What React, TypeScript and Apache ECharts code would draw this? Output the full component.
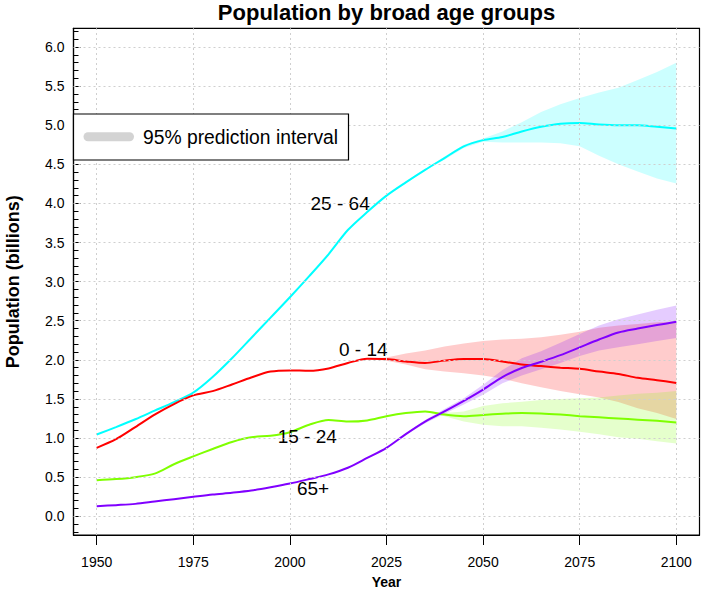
import React, { useEffect, useRef } from "react";
import * as echarts from "echarts";

// ---------- data ----------
const years = [
  1950, 1955, 1960, 1965, 1970, 1975, 1980, 1985, 1990, 1995, 2000, 2005, 2010,
  2015, 2020, 2025, 2030, 2035, 2040, 2045, 2050, 2055, 2060, 2065, 2070, 2075,
  2080, 2085, 2090, 2095, 2100,
];

const age25_64 = [
  1.045, 1.14, 1.24, 1.35, 1.46, 1.58, 1.78, 2.02, 2.28, 2.54, 2.8, 3.07, 3.35,
  3.66, 3.89, 4.1, 4.27, 4.43, 4.58, 4.73, 4.81, 4.85, 4.92, 4.98, 5.02, 5.03,
  5.01, 5.0, 5.0, 4.98, 4.96,
];
const age0_14 = [
  0.875, 0.985, 1.14, 1.3, 1.435, 1.545, 1.6, 1.685, 1.775, 1.85, 1.865, 1.86,
  1.89, 1.96, 2.015, 2.01, 1.98, 1.96, 1.99, 2.01, 2.01, 1.98, 1.94, 1.92, 1.9,
  1.885, 1.85, 1.82, 1.77, 1.74, 1.705,
];
const age15_24 = [
  0.46, 0.475, 0.5, 0.545, 0.665, 0.765, 0.86, 0.95, 1.01, 1.03, 1.075, 1.17,
  1.23, 1.21, 1.225, 1.28, 1.32, 1.34, 1.3, 1.28, 1.295, 1.31, 1.32, 1.315, 1.3,
  1.28, 1.265, 1.25, 1.235, 1.22, 1.2,
];
const age65plus = [
  0.128, 0.142, 0.158, 0.188, 0.218, 0.248, 0.277, 0.3, 0.328, 0.37, 0.418,
  0.475, 0.535, 0.62, 0.745, 0.875, 1.05, 1.21, 1.34, 1.475, 1.62, 1.78, 1.895,
  1.975, 2.06, 2.16, 2.26, 2.35, 2.4, 2.445, 2.486,
];

// 95% prediction intervals
const bandYears = [
  2020, 2025, 2030, 2035, 2040, 2045, 2050, 2055, 2060, 2065, 2070, 2075, 2080,
  2085, 2090, 2095, 2100,
];
const band25_64Hi = [
  3.89, 4.11, 4.28, 4.44, 4.6, 4.75, 4.83, 4.92, 5.04, 5.17, 5.27, 5.35, 5.42,
  5.48, 5.58, 5.68, 5.8,
];
const band25_64Lo = [
  3.89, 4.09, 4.26, 4.42, 4.56, 4.71, 4.79, 4.78, 4.78, 4.78, 4.77, 4.73, 4.61,
  4.5, 4.41, 4.32, 4.255,
];
const band0_14Hi = [
  2.015, 2.03, 2.08, 2.12, 2.17, 2.21, 2.24, 2.26, 2.27, 2.29, 2.32, 2.36, 2.41,
  2.44, 2.46, 2.48, 2.49,
];
const band0_14Lo = [
  2.015, 1.99, 1.94, 1.88, 1.85, 1.83, 1.8, 1.76, 1.7, 1.65, 1.6, 1.56, 1.52,
  1.46, 1.38, 1.32, 1.245,
];
const band15_24Hi = [
  1.225, 1.28, 1.32, 1.345, 1.32, 1.34, 1.41, 1.445, 1.465, 1.485, 1.5, 1.51,
  1.52, 1.545, 1.565, 1.58, 1.6,
];
const band15_24Lo = [
  1.225, 1.28, 1.32, 1.335, 1.28, 1.21, 1.17, 1.15, 1.15, 1.13, 1.11, 1.08,
  1.05, 1.01, 0.99, 0.96, 0.93,
];
const band65Hi = [
  0.745, 0.875, 1.06, 1.23, 1.37, 1.51, 1.68, 1.87, 2.02, 2.11, 2.22, 2.33,
  2.44, 2.52, 2.58, 2.64, 2.695,
];
const band65Lo = [
  0.745, 0.875, 1.04, 1.19, 1.31, 1.43, 1.555, 1.7, 1.8, 1.88, 1.96, 2.05, 2.12,
  2.16, 2.2, 2.24, 2.28,
];

// tick labels
const xTickValues = [1950, 1975, 2000, 2025, 2050, 2075, 2100];
const yTickValues = [0, 0.5, 1, 1.5, 2, 2.5, 3, 3.5, 4, 4.5, 5, 5.5, 6];

// in-plot group labels: [year, value, text]
const groupLabels: [number, number, string][] = [
  [2013, 4.0, "25 - 64"],
  [2019, 2.13, "0 - 14"],
  [2004.5, 1.02, "15 - 24"],
  [2006, 0.35, "65+"],
];

const FONT = '"Liberation Sans", Arial, Helvetica, sans-serif';

const yMinorTickValues: number[] = [];
for (let k = -2; k <= 62; k++) {
  if (k % 5 !== 0) yMinorTickValues.push(Math.round(k) / 10);
}

function pairs(xs: number[], ys: number[]) {
  return xs.map((x, i) => [x, ys[i]]);
}

function makeBand(name: string, lo: number[], hi: number[], fill: string) {
  return {
    type: "custom",
    name,
    silent: true,
    z: 2,
    data: bandYears.map((y, i) => [y, lo[i], hi[i]]),
    encode: { x: 0, y: [1, 2] },
    renderItem: (params: any, api: any) => {
      if (params.dataIndex !== 0) return null;
      const pts: number[][] = [];
      for (let i = 0; i < bandYears.length; i++)
        pts.push(api.coord([bandYears[i], hi[i]]));
      for (let i = bandYears.length - 1; i >= 0; i--)
        pts.push(api.coord([bandYears[i], lo[i]]));
      return { type: "polygon", shape: { points: pts }, style: { fill } };
    },
  };
}

function makeLine(name: string, vals: number[], color: string) {
  return {
    type: "line",
    name,
    z: 3,
    data: pairs(years, vals),
    showSymbol: false,
    smooth: 0.3,
    silent: true,
    lineStyle: { color, width: 2 },
    itemStyle: { color },
  };
}

export default function App() {
  const ref = useRef<HTMLDivElement>(null);

  useEffect(() => {
    document.body.style.margin = "0";
    if (!ref.current) return;
    const chart = echarts.init(ref.current, null, { renderer: "svg" });

    const option: any = {
      animation: false,
      backgroundColor: "#ffffff",
      grid: {
        left: 73.5,
        right: 6.5,
        top: 28.3,
        bottom: 55,
        show: true,
        borderColor: "#000",
        borderWidth: 1.2,
        backgroundColor: "transparent",
        outerBoundsMode: "none",
      },
      xAxis: {
        type: "value",
        min: 1944,
        max: 2106,
        name: "Year",
        nameLocation: "middle",
        nameGap: 40,
        nameTextStyle: {
          fontFamily: FONT,
          fontSize: 14,
          fontWeight: "bold",
          color: "#000",
        },
        axisLine: { show: true, onZero: false, lineStyle: { color: "#000", width: 1.2 } },
        axisTick: {
          show: true,
          inside: false,
          length: 10,
          customValues: xTickValues,
          lineStyle: { color: "#000", width: 1 },
        },
        axisLabel: {
          show: true,
          customValues: xTickValues,
          margin: 20,
          fontFamily: FONT,
          fontSize: 14,
          color: "#000",
          formatter: (v: number) => String(v),
        },
        splitLine: { show: false },
      },
      yAxis: [
        {
          type: "value",
          min: -0.24,
          max: 6.24,
          name: "Population (billions)",
          nameLocation: "middle",
          nameGap: 52,
          nameTextStyle: {
            fontFamily: FONT,
            fontSize: 18,
            fontWeight: "bold",
            color: "#000",
          },
          axisLine: { show: true, onZero: false, lineStyle: { color: "#000", width: 1.2 } },
          axisTick: {
            show: true,
            inside: true,
            length: 7,
            customValues: yTickValues,
            lineStyle: { color: "#000", width: 1 },
          },
          axisLabel: {
            show: true,
            customValues: yTickValues,
            margin: 9,
            fontFamily: FONT,
            fontSize: 14,
            color: "#000",
            formatter: (v: number) => v.toFixed(1),
          },
          splitLine: { show: false },
        },
        {
          type: "value",
          min: -0.24,
          max: 6.24,
          position: "left",
          offset: 0,
          axisLine: { show: false },
          axisTick: {
            show: true,
            inside: true,
            length: 5,
            customValues: yMinorTickValues,
            lineStyle: { color: "#000", width: 1 },
          },
          axisLabel: { show: false },
          splitLine: { show: false },
        },
      ],
      graphic: [
        {
          type: "text",
          x: 386.5,
          y: 12,
          z: 100,
          style: {
            text: "Population by broad age groups",
            fontFamily: FONT,
            fontSize: 22,
            fontWeight: "bold",
            fill: "#000",
            textAlign: "center",
            textVerticalAlign: "middle",
            verticalAlign: "middle",
          },
        },
        {
          type: "rect",
          z: 100,
          shape: { x: 73.5, y: 114, width: 275, height: 46 },
          style: { fill: "#fff", stroke: "#000", lineWidth: 1.2 },
        },
        {
          type: "line",
          z: 101,
          shape: { x1: 88, y1: 136.7, x2: 129.5, y2: 136.7 },
          style: { stroke: "#d3d3d3", lineWidth: 9, lineCap: "round" },
        },
        {
          type: "text",
          x: 143,
          y: 137,
          z: 101,
          style: {
            text: "95% prediction interval",
            fontFamily: FONT,
            fontSize: 19.3,
            fill: "#000",
            textAlign: "left",
            textVerticalAlign: "middle",
            verticalAlign: "middle",
          },
        },
      ],
      series: [
        {
          type: "line",
          name: "grid",
          data: [],
          silent: true,
          z: 1,
          markLine: {
            silent: true,
            animation: false,
            symbol: ["none", "none"],
            label: { show: false },
            lineStyle: { color: "#cfcfcf", type: [2, 3], width: 1 },
            emphasis: { disabled: true },
            data: [
              ...xTickValues.map((v) => ({ xAxis: v })),
              ...yTickValues.map((v) => ({ yAxis: v })),
            ],
          },
        },
        makeBand("25 - 64 PI", band25_64Lo, band25_64Hi, "rgba(0,255,255,0.2)"),
        makeBand("0 - 14 PI", band0_14Lo, band0_14Hi, "rgba(255,0,0,0.2)"),
        makeBand("15 - 24 PI", band15_24Lo, band15_24Hi, "rgba(127,255,0,0.2)"),
        makeBand("65+ PI", band65Lo, band65Hi, "rgba(127,0,255,0.2)"),
        makeLine("25 - 64", age25_64, "#00ffff"),
        makeLine("0 - 14", age0_14, "#ff0000"),
        makeLine("15 - 24", age15_24, "#7fff00"),
        makeLine("65+", age65plus, "#8000ff"),
        {
          type: "scatter",
          name: "labels",
          silent: true,
          z: 4,
          symbolSize: 0,
          data: groupLabels.map((g) => ({ value: [g[0], g[1]], name: g[2] })),
          label: {
            show: true,
            position: [0, 0],
            align: "center",
            verticalAlign: "middle",
            formatter: (p: any) => p.name,
            fontFamily: FONT,
            fontSize: 19,
            color: "#000",
            textBorderWidth: 0,
            opacity: 1,
          },
        },
      ],
    };

    chart.setOption(option);
    return () => chart.dispose();
  }, []);

  return <div ref={ref} style={{ width: 706, height: 590 }} />;
}
